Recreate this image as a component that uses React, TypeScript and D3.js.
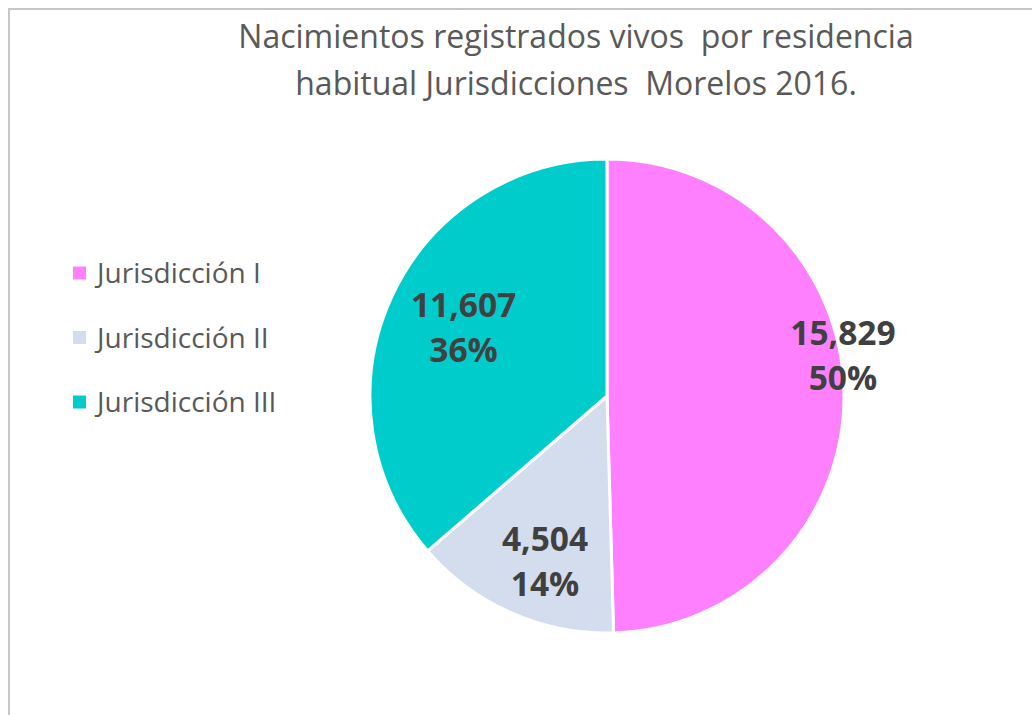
import React from "react";
import * as d3 from "d3";

const width = 1032;
const height = 715;

const titleLines = [
  "Nacimientos registrados vivos  por residencia",
  "habitual Jurisdicciones  Morelos 2016.",
];
const categories = ["Jurisdicción I", "Jurisdicción II", "Jurisdicción III"];
const values = [15829, 4504, 11607];
const colors = ["#FF80FF", "#D3DDEE", "#00CCCC"];

// label spot in each slice: share of the slice's sweep, share of the radius
const labelSpot = [
  [0.45, 1.01],
  [0.435, 0.747],
  [0.506, 0.67],
];

const cx = 607;
const cy = 396;
const radius = 237;
const font = "'Open Sans', sans-serif";

export default function App() {
  const total = d3.sum(values);
  const pie = d3
    .pie<number>()
    .sort(null)
    .value((d) => d);
  const arcs = pie(values);
  const arc = d3.arc<d3.PieArcDatum<number>>().innerRadius(0).outerRadius(radius);
  const fmt = d3.format(",");
  const pct = d3.format(".0%");

  return (
    <svg
      width={width}
      height={height}
      style={{ position: "absolute", left: 0, top: 0 }}
    >
      <rect x={0} y={0} width={width} height={height} fill="#fff" />
      <rect
        x={9}
        y={9}
        width={width + 20}
        height={height + 20}
        fill="none"
        stroke="#C6C6C6"
        strokeWidth={2}
      />
      {titleLines.map((t, i) => (
        <text
          key={i}
          x={576}
          y={48 + i * 47}
          textAnchor="middle"
          fontFamily={font}
          fontSize={32}
          fill="#595959"
          style={{ whiteSpace: "pre" }}
        >
          {t}
        </text>
      ))}

      <g transform={`translate(${cx},${cy})`}>
        {arcs.map((a, i) => (
          <path
            key={i}
            d={arc(a) || ""}
            fill={colors[i]}
            stroke="#fff"
            strokeWidth={3}
            strokeLinejoin="round"
          />
        ))}
        {arcs.map((a, i) => {
          const [f, rf] = labelSpot[i];
          const ang = a.startAngle + (a.endAngle - a.startAngle) * f;
          const r = radius * rf;
          const x = Math.sin(ang) * r;
          const y = -Math.cos(ang) * r;
          return (
            <text
              key={i}
              x={x}
              textAnchor="middle"
              fontFamily={font}
              fontWeight="bold"
              fontSize={33.5}
              fill="#404040"
            >
              <tspan x={x} y={y - 11}>
                {fmt(values[i])}
              </tspan>
              <tspan x={x} y={y + 34}>
                {pct(values[i] / total)}
              </tspan>
            </text>
          );
        })}
      </g>

      {categories.map((c, i) => (
        <g key={c} transform={`translate(73,${273 + i * 64.5})`}>
          <rect x={0} y={-6.5} width={13} height={13} fill={colors[i]} />
          <text
            x={24}
            y={10}
            fontFamily={font}
            fontSize={28}
            fill="#595959"
          >
            {c}
          </text>
        </g>
      ))}
    </svg>
  );
}
